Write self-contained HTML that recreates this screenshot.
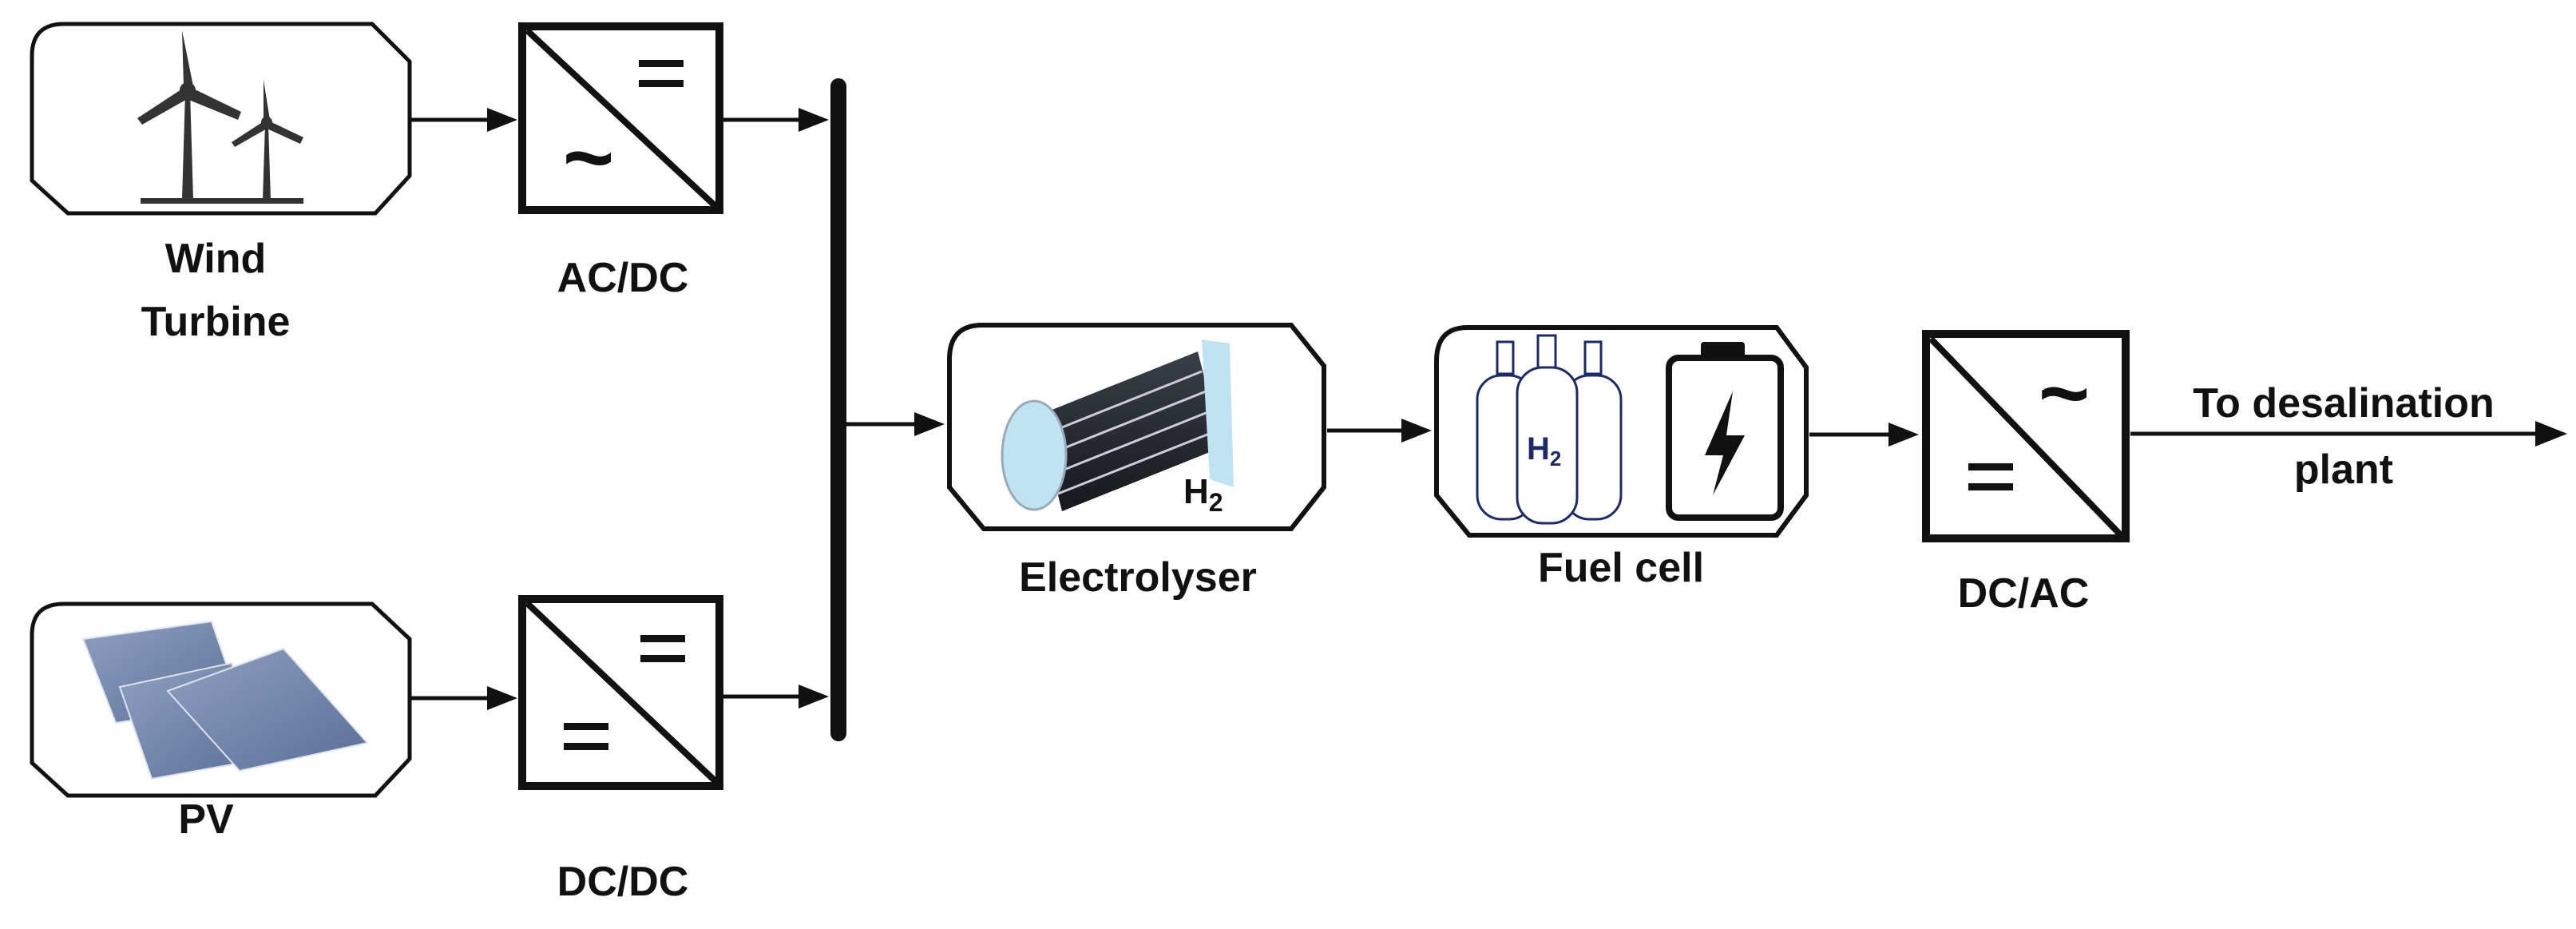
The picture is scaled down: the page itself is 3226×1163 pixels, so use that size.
<!DOCTYPE html>
<html><head><meta charset="utf-8"><style>
html,body{margin:0;padding:0;background:#fff;}
svg{display:block}
text{font-family:"Liberation Sans",sans-serif;font-weight:bold;fill:#111}
</style></head><body>
<svg width="3226" height="1163" viewBox="0 0 3226 1163" xmlns="http://www.w3.org/2000/svg">
<defs>
<linearGradient id="pv" x1="0" y1="0" x2="1" y2="1"><stop offset="0" stop-color="#8fa1c0"/><stop offset="1" stop-color="#5a6f98"/></linearGradient>
<linearGradient id="cyl" x1="0" y1="0" x2="0" y2="1"><stop offset="0" stop-color="#3a4048"/><stop offset="1" stop-color="#15181c"/></linearGradient>
</defs>

<!-- Wind box -->
<path d="M80,30 H466 L513,77 V220 L470,267 H85 L40,226 V70 Q40,30 80,30 Z" fill="#fff" stroke="#111" stroke-width="5"/>
<g fill="#333">
<rect x="176" y="248" width="204" height="7"/>
<polygon points="228,250 242,250 238,115 232,115"/>
<circle cx="235" cy="113" r="10"/>
<polygon points="230,108 228,38 242,108"/>
<polygon points="230,110 172,148 178,156 238,122"/>
<polygon points="240,110 302,140 298,150 234,124"/>
<polygon points="329,250 339,250 336,155 332,155"/>
<circle cx="334" cy="153" r="7"/>
<polygon points="330,150 330,100 338,150"/>
<polygon points="330,152 290,178 294,184 336,160"/>
<polygon points="338,152 380,172 376,180 332,160"/>
</g>
<!-- PV box -->
<path d="M80,756 H466 L513,800 V950 L470,996 H85 L40,955 V795 Q40,756 80,756 Z" fill="#fff" stroke="#111" stroke-width="5"/>
<g stroke="#dde3ee" stroke-width="2">
<polygon points="104,800 265,778 300,880 145,905" fill="url(#pv)"/>
<polygon points="150,860 290,830 330,950 190,975" fill="url(#pv)"/>
<polygon points="210,865 355,812 460,930 300,965" fill="url(#pv)"/>
</g>
<!-- AC/DC -->
<rect x="654" y="33" width="247" height="230" fill="#fff" stroke="#111" stroke-width="10"/>
<line x1="660" y1="38" x2="898" y2="260" stroke="#111" stroke-width="8"/>
<rect x="800" y="75" width="56" height="9" fill="#111"/><rect x="800" y="100" width="56" height="9" fill="#111"/>
<text x="737" y="235" font-size="110" text-anchor="middle">~</text>
<!-- DC/DC -->
<rect x="654" y="750" width="247" height="234" fill="#fff" stroke="#111" stroke-width="10"/>
<line x1="660" y1="755" x2="898" y2="980" stroke="#111" stroke-width="8"/>
<rect x="802" y="795" width="56" height="9" fill="#111"/><rect x="802" y="820" width="56" height="9" fill="#111"/>
<rect x="706" y="905" width="56" height="9" fill="#111"/><rect x="706" y="930" width="56" height="9" fill="#111"/>
<!-- bus -->
<rect x="1040" y="98" width="20" height="830" rx="10" fill="#111"/>
<!-- arrows -->
<g stroke="#111" stroke-width="5" fill="#111">
<line x1="513" y1="150" x2="620" y2="150"/><polygon points="610,135 648,150 610,165" stroke="none"/>
<line x1="513" y1="874" x2="620" y2="874"/><polygon points="610,859 648,874 610,889" stroke="none"/>
<line x1="906" y1="150" x2="1005" y2="150"/><polygon points="1000,135 1038,150 1000,165" stroke="none"/>
<line x1="906" y1="872" x2="1005" y2="872"/><polygon points="1000,857 1038,872 1000,887" stroke="none"/>
<line x1="1060" y1="531" x2="1150" y2="531"/><polygon points="1145,516 1183,531 1145,546" stroke="none"/>
<line x1="1662" y1="539" x2="1760" y2="539"/><polygon points="1755,524 1793,539 1755,554" stroke="none"/>
<line x1="2266" y1="544" x2="2370" y2="544"/><polygon points="2365,529 2403,544 2365,559" stroke="none"/>
<line x1="2668" y1="543" x2="3180" y2="543"/><polygon points="3175,527 3215,543 3175,559" stroke="none"/>
</g>
<!-- Electrolyser -->
<path d="M1230,407 H1617 L1658,458 V610 L1617,662 H1232 L1189,610 V450 Q1189,407 1230,407 Z" fill="#fff" stroke="#111" stroke-width="6"/>
<polygon points="1300,520 1500,440 1530,560 1330,640" fill="url(#cyl)"/>
<g stroke="#ccd" stroke-width="3"><line x1="1305" y1="545" x2="1505" y2="465"/><line x1="1310" y1="570" x2="1510" y2="490"/><line x1="1315" y1="595" x2="1515" y2="515"/><line x1="1320" y1="620" x2="1522" y2="540"/></g>
<ellipse cx="1295" cy="570" rx="40" ry="68" fill="#bfe3f2" stroke="#9ab" stroke-width="3"/>
<polygon points="1505,425 1540,430 1545,610 1515,600" fill="#bfe3f2"/>
<text x="1482" y="630" font-size="44" font-weight="normal">H<tspan font-size="32" dy="10">2</tspan></text>
<!-- Fuel cell -->
<path d="M1838,410 H2225 L2262,460 V620 L2225,670 H1840 L1799,620 V452 Q1799,410 1838,410 Z" fill="#fff" stroke="#111" stroke-width="6"/>
<g fill="#fff" stroke="#1c2a6b" stroke-width="3">
<rect x="1850" y="470" width="70" height="180" rx="30"/>
<rect x="1960" y="470" width="70" height="180" rx="30"/>
<rect x="1900" y="460" width="75" height="195" rx="32"/>
<rect x="1875" y="428" width="20" height="40"/><rect x="1926" y="420" width="22" height="40"/><rect x="1985" y="428" width="20" height="40"/>
</g>
<text x="1912" y="575" font-size="40" font-weight="normal" style="fill:#1c2a6b">H<tspan font-size="26" dy="8">2</tspan></text>
<rect x="2090" y="448" width="140" height="200" rx="12" fill="#fff" stroke="#111" stroke-width="8"/>
<rect x="2130" y="428" width="55" height="20" rx="4" fill="#111"/>
<polygon points="2170,490 2135,570 2158,570 2145,620 2185,545 2162,545" fill="#111"/>
<!-- DC/AC -->
<rect x="2412" y="418" width="250" height="256" fill="#fff" stroke="#111" stroke-width="10"/>
<line x1="2418" y1="424" x2="2656" y2="670" stroke="#111" stroke-width="8"/>
<rect x="2465" y="580" width="56" height="9" fill="#111"/><rect x="2465" y="605" width="56" height="9" fill="#111"/>
<text x="2585" y="530" font-size="110" text-anchor="middle">~</text>

<!-- labels -->
<g font-size="52" text-anchor="middle">
<text x="270" y="341">Wind</text>
<text x="270" y="420">Turbine</text>
<text x="780" y="365">AC/DC</text>
<text x="258" y="1043">PV</text>
<text x="780" y="1121">DC/DC</text>
<text x="1425" y="740">Electrolyser</text>
<text x="2030" y="728">Fuel cell</text>
<text x="2534" y="760">DC/AC</text>
<text x="2935" y="522">To desalination</text>
<text x="2935" y="605">plant</text>
</g>
</svg>
</body></html>
